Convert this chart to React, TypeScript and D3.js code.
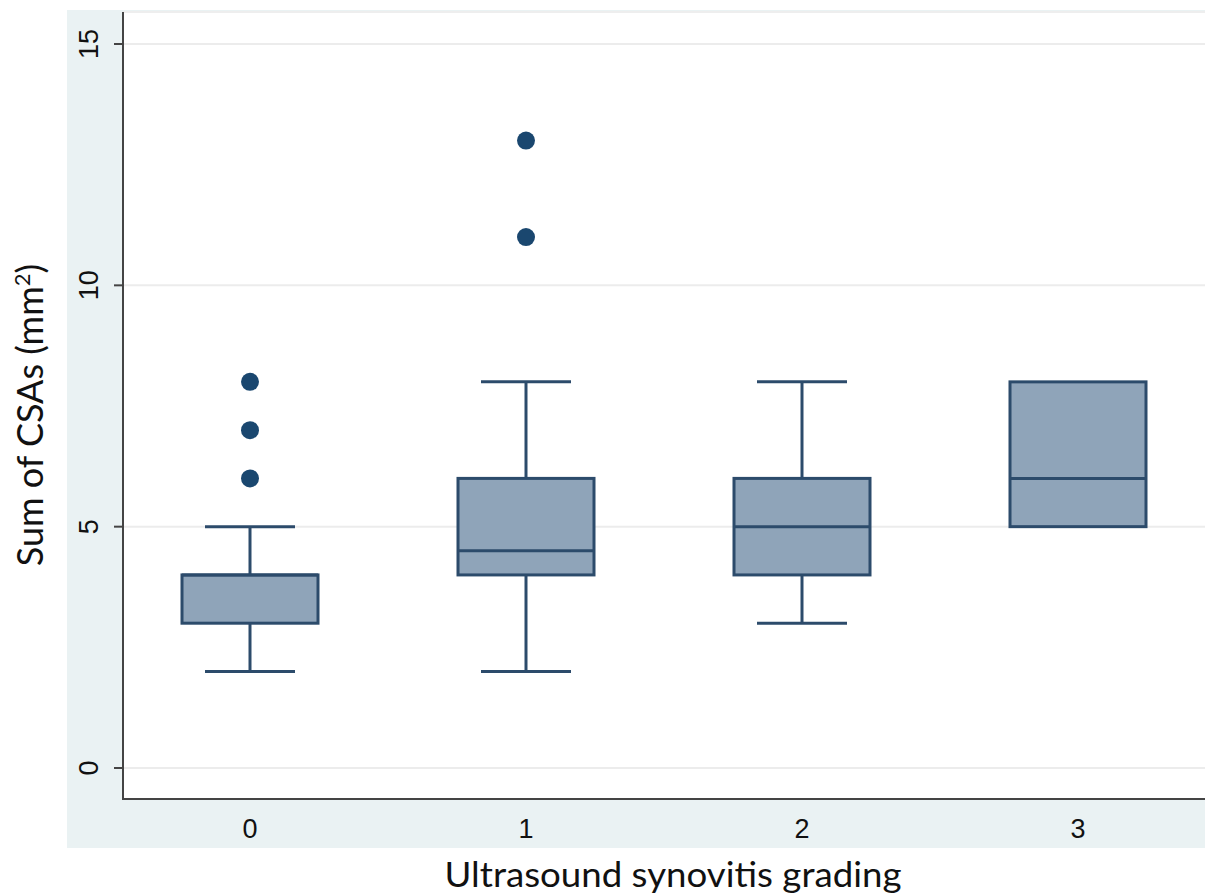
import React from "react";
import * as d3 from "d3";

const categories = ["0", "1", "2", "3"];
const whiskerLow = [2, 2, 3, 5];
const q1 = [3, 4, 4, 5];
const medians = [4, 4.5, 5, 6];
const q3 = [4, 6, 6, 8];
const whiskerHigh = [5, 8, 8, 8];
const outliers: number[][] = [[6, 7, 8], [11, 13], [], []];
const yTicks = [0, 5, 10, 15];

const W = 1205;
const H = 895;

export default function App() {
  const plotLeft = 123;
  const plotRight = 1205;
  const plotTop = 12;
  const plotBottom = 799;

  const y = d3.scaleLinear().domain([0, 15]).range([768, 44]);
  const x = d3.scalePoint<string>().domain(categories).range([250, 1078]);
  const boxW = 136;
  const capW = 90;
  const stroke = "#2c4b6b";
  const fill = "#8fa4b9";

  return (
    <svg width={W} height={H} style={{ position: "absolute", left: 0, top: 0, background: "#ffffff" }}>
      <rect x={67} y={10} width={W - 67} height={838} fill="#eaf2f3" />
      <rect x={plotLeft} y={plotTop} width={plotRight - plotLeft} height={plotBottom - plotTop} fill="#ffffff" />
      <line x1={plotLeft} x2={plotRight} y1={plotTop} y2={plotTop} stroke="#eeeeee" strokeWidth={2} />
      {yTicks.map((t) => (
        <g key={t}>
          <line x1={plotLeft} x2={plotRight} y1={y(t)} y2={y(t)} stroke="#ececec" strokeWidth={2} />
          <line x1={plotLeft - 9} x2={plotLeft} y1={y(t)} y2={y(t)} stroke="#444" strokeWidth={2} />
          <text
            transform={`translate(${98},${y(t)}) rotate(-90)`}
            textAnchor="middle"
            fontFamily="Liberation Sans, Arial, sans-serif"
            fontSize={27}
            fill="#111"
          >
            {t}
          </text>
        </g>
      ))}
      {categories.map((c, i) => {
        const cx = x(c)!;
        return (
          <g key={c}>
            {whiskerHigh[i] > q3[i] && (
              <>
                <line x1={cx} x2={cx} y1={y(q3[i])} y2={y(whiskerHigh[i])} stroke={stroke} strokeWidth={3} />
                <line x1={cx - capW / 2} x2={cx + capW / 2} y1={y(whiskerHigh[i])} y2={y(whiskerHigh[i])} stroke={stroke} strokeWidth={3} />
              </>
            )}
            {whiskerLow[i] < q1[i] && (
              <>
                <line x1={cx} x2={cx} y1={y(q1[i])} y2={y(whiskerLow[i])} stroke={stroke} strokeWidth={3} />
                <line x1={cx - capW / 2} x2={cx + capW / 2} y1={y(whiskerLow[i])} y2={y(whiskerLow[i])} stroke={stroke} strokeWidth={3} />
              </>
            )}
            <rect
              x={cx - boxW / 2}
              y={y(q3[i])}
              width={boxW}
              height={y(q1[i]) - y(q3[i])}
              fill={fill}
              stroke={stroke}
              strokeWidth={3}
            />
            <line x1={cx - boxW / 2} x2={cx + boxW / 2} y1={y(medians[i])} y2={y(medians[i])} stroke={stroke} strokeWidth={3} />
            {outliers[i].map((o, j) => (
              <circle key={j} cx={cx} cy={y(o)} r={9} fill="#1a476f" />
            ))}
            <text
              x={cx}
              y={838}
              textAnchor="middle"
              fontFamily="Liberation Sans, Arial, sans-serif"
              fontSize={27}
              fill="#111"
            >
              {c}
            </text>
          </g>
        );
      })}
      <line x1={plotLeft} x2={plotLeft} y1={plotTop} y2={plotBottom + 1} stroke="#444" strokeWidth={2} />
      <line x1={plotLeft} x2={plotRight} y1={plotBottom} y2={plotBottom} stroke="#444" strokeWidth={2} />
      <text
        x={673}
        y={887}
        textAnchor="middle"
        fontFamily="Lato, Open Sans, sans-serif"
        fontSize={35}
        textLength={457}
        lengthAdjust="spacingAndGlyphs"
        fill="#111"
      >
        Ultrasound synovitis grading
      </text>
      <text
        transform={`translate(${43},${415}) rotate(-90)`}
        textAnchor="middle"
        fontFamily="Lato, Open Sans, sans-serif"
        fontSize={36}
        fill="#111"
      >
        Sum of CSAs (mm<tspan dy={-13} fontSize={22}>2</tspan>
        <tspan dy={13}>)</tspan>
      </text>
    </svg>
  );
}
